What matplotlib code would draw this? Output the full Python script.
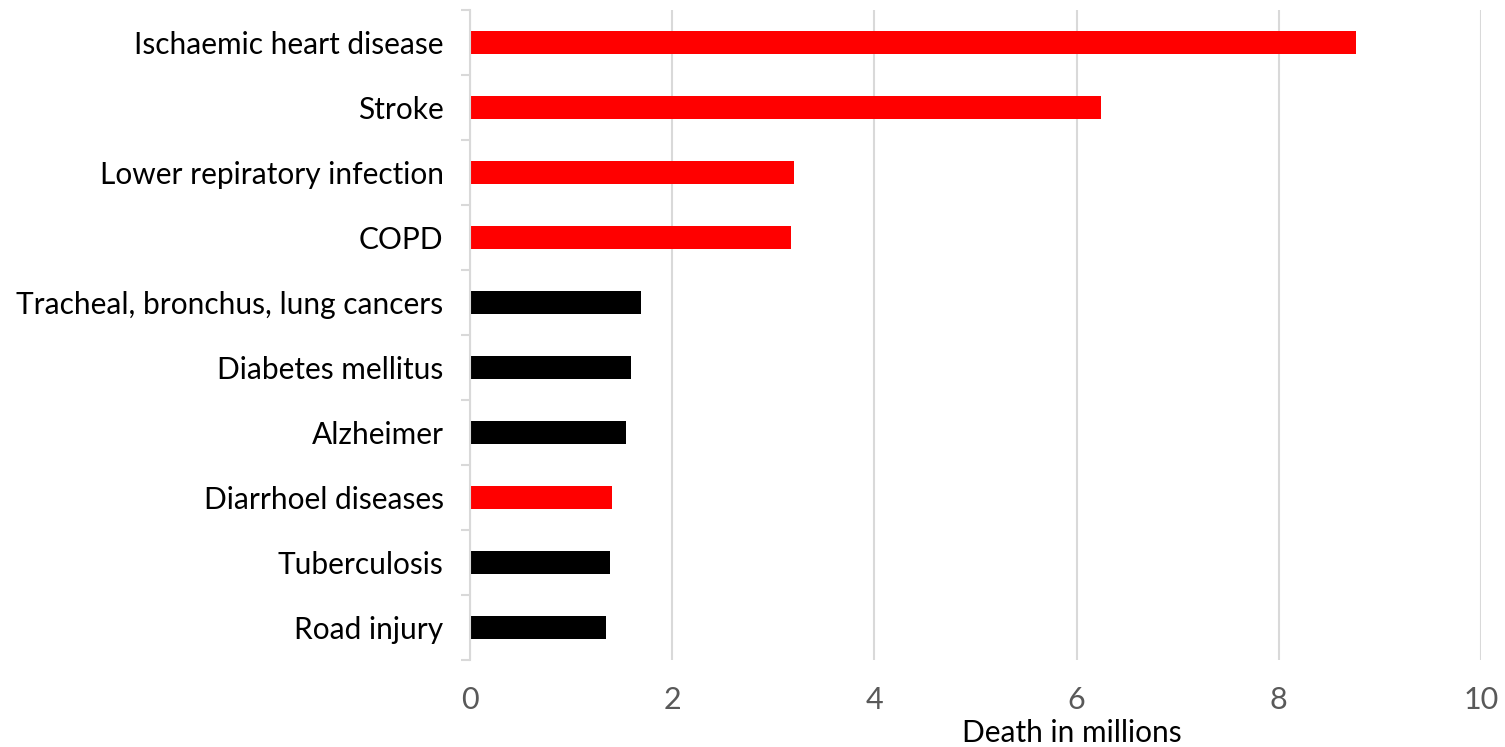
import matplotlib
matplotlib.use("Agg")
import matplotlib.pyplot as plt

causes = [
    "Ischaemic heart disease",
    "Stroke",
    "Lower repiratory infection",
    "COPD",
    "Tracheal, bronchus, lung cancers",
    "Diabetes mellitus",
    "Alzheimer",
    "Diarrhoel diseases",
    "Tuberculosis",
    "Road injury",
]
deaths = [8.76, 6.24, 3.20, 3.18, 1.69, 1.59, 1.54, 1.40, 1.38, 1.35]
highlight = [True, True, True, True, False, False, False, True, False, False]
xticks = [0, 2, 4, 6, 8, 10]

plt.rcParams["font.family"] = ["Lato", "DejaVu Sans"]

fig = plt.figure(figsize=(15.05, 7.47), dpi=100)
ax = fig.add_axes([470 / 1505, 1 - 660 / 747, (1481 - 470) / 1505, 650 / 747])

colors = ["#FF0000" if h else "#000000" for h in highlight]
ypos = list(range(len(causes)))
ax.barh(ypos, deaths, height=0.36, color=colors, zorder=3)

ax.set_ylim(len(causes) - 0.5, -0.5)
ax.set_xlim(0, 10)
ax.set_xticks(xticks)
ax.set_xticklabels([str(t) for t in xticks])
ax.set_yticks(ypos)
ax.set_yticklabels(causes)

# category boundary ticks on the left spine
ax.set_yticks([i - 0.5 for i in range(len(causes) + 1)], minor=True)
ax.tick_params(axis="y", which="major", length=0, pad=19, labelsize=21.5, labelcolor="#000000")
ax.tick_params(axis="y", which="minor", length=6.5, width=1.5, color="#D9D9D9")
ax.tick_params(axis="x", length=0, pad=19, labelsize=22, labelcolor="#595959")

ax.grid(axis="x", color="#D9D9D9", linewidth=1.5, zorder=0)
for side in ("top", "right", "bottom"):
    ax.spines[side].set_visible(False)
ax.spines["left"].set_color("#D9D9D9")
ax.spines["left"].set_linewidth(1.5)
ax.spines["left"].set_zorder(4)

fig.text(1072 / 1505, 1 - 733 / 747, "Death in millions", ha="center", va="center",
         fontsize=21.5, color="#000000")

fig.savefig("out.png", dpi=100, facecolor="white")
